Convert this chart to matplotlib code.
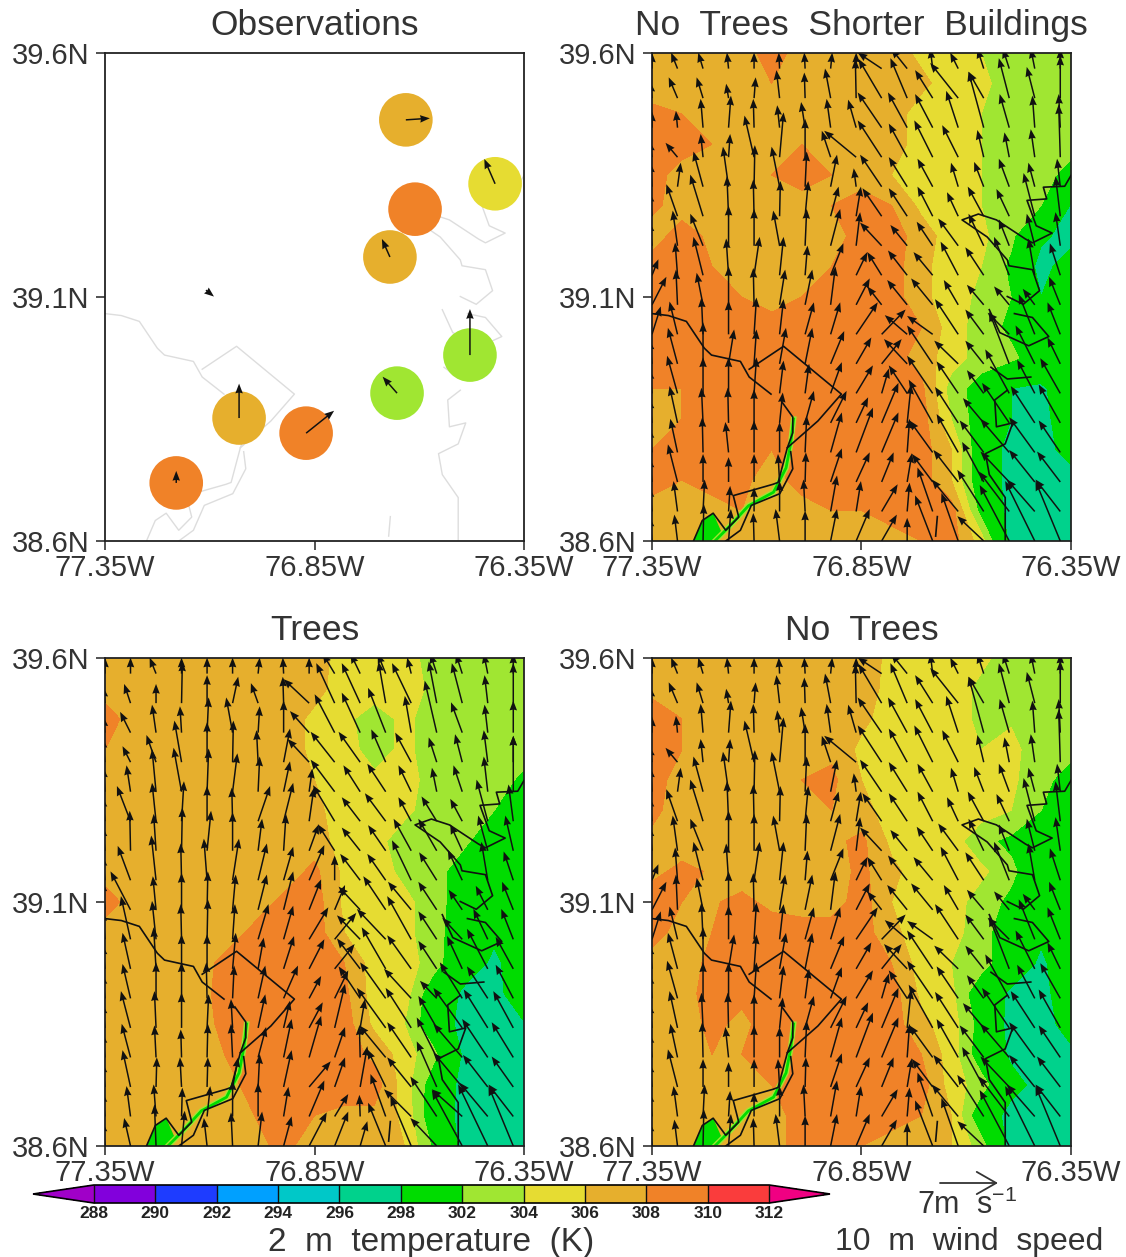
import matplotlib
matplotlib.use('Agg')
import matplotlib.pyplot as plt
from matplotlib.colors import BoundaryNorm, ListedColormap
from matplotlib.cm import ScalarMappable
from matplotlib.patches import FancyArrowPatch
import numpy as np

plt.rcParams['font.family'] = ['Liberation Sans', 'DejaVu Sans']
plt.rcParams['mathtext.default'] = 'regular'

W, H = 1126, 1257

# colour scale
levels = [288, 290, 292, 294, 296, 298, 302, 304, 306, 308, 310, 312]
level_colors = ['#8200dc', '#1e3cff', '#00a0ff', '#00c8c8', '#00d28c', '#00dc00',
                '#a0e632', '#e6dc32', '#e6af2d', '#f08228', '#fa3c3c']
under_color = '#a000c8'
over_color = '#f00082'

# observations
obs_lon = [-76.632, -76.419, -76.610, -76.670, -76.479, -76.653, -77.030, -76.870, -77.180]
obs_lat = [39.463, 39.332, 39.280, 39.182, 38.981, 38.903, 38.852, 38.821, 38.719]
obs_temp = [307, 305, 309, 307, 303, 303, 307, 309, 309]
# the station at 76.61W reported no wind, so it is left out of these
wind_lon = [-76.632, -76.419, -76.670, -76.479, -76.653, -77.030, -76.870, -77.180, -77.109]
wind_lat = [39.463, 39.332, 39.182, 38.981, 38.903, 38.852, 38.821, 38.719, 39.114]
wind_u = [3.0, -1.35, -1.0, 0.0, -1.8, 0.0, 3.5, 0.0, 1.0]
wind_v = [0.2, 3.1, 2.25, 5.75, 2.05, 4.3, 2.8, 1.5, -0.8]

# map outlines, lon then lat
line_west = [[-77.35, -77.311, -77.268, -77.225, -77.208, -77.139, -77.118, -77.066],
             [39.066, 39.062, 39.05, 38.995, 38.981, 38.968, 38.936, 38.901]]
line_dc = [[-77.118, -77.036, -76.898, -76.954, -77.027],
           [38.952, 38.999, 38.901, 38.846, 38.791]]
line_bank1 = [[-77.04, -77.014, -77.014, -77.027, -77.049, -77.062, -77.156, -77.143, -77.174, -77.204, -77.23, -77.251],
              [38.885, 38.854, 38.822, 38.791, 38.72, 38.716, 38.693, 38.649, 38.622, 38.657, 38.642, 38.6]]
line_bank2 = [[-77.019, -77.014, -77.045, -77.113, -77.139, -77.174],
              [38.783, 38.748, 38.697, 38.673, 38.622, 38.6]]
line_east1 = [[-76.35, -76.365, -76.416, -76.408, -76.455, -76.433, -76.395, -76.442, -76.459, -76.528, -76.571, -76.61, -76.55, -76.502, -76.498, -76.442, -76.425, -76.464, -76.502],
              [39.349, 39.327, 39.325, 39.301, 39.298, 39.246, 39.231, 39.211, 39.219, 39.258, 39.27, 39.258, 39.223, 39.176, 39.164, 39.156, 39.113, 39.085, 39.101]]
line_east2 = [[-76.545, -76.52, -76.451, -76.403, -76.442, -76.485],
              [39.074, 39.027, 39.0, 39.019, 39.058, 39.066]]
line_east3 = [[-76.541, -76.502, -76.446],
              [38.956, 38.932, 38.936]]
line_east4 = [[-76.502, -76.532, -76.528, -76.489, -76.507, -76.554, -76.545, -76.507, -76.507],
              [38.909, 38.889, 38.834, 38.842, 38.799, 38.779, 38.736, 38.689, 38.602]]
line_south = [[-76.669, -76.673], [38.65, 38.61]]
map_lines = [line_west, line_dc, line_bank1, line_bank2, line_east1, line_east2, line_east3, line_east4, line_south]

river_lon = [-77.012, -77.019, -77.03, -77.06, -77.12, -77.165, -77.2]
river_lat = [38.85, 38.80, 38.75, 38.70, 38.672, 38.63, 38.6]
island_lon = [-77.25, -77.23, -77.204, -77.185, -77.2]
island_lat = [38.6, 38.642, 38.657, 38.62, 38.6]

# 2 m temperature, top row first
temp_shorter = [
    [307, 307, 307, 307.5, 308.5, 307.5, 307.5, 307, 307, 305.5, 305, 304, 303, 303, 303],
    [307, 307, 307, 307, 308, 308, 307, 307, 307, 306.5, 305, 304.5, 303, 303, 303],
    [308.5, 308, 307.5, 308, 307, 307, 308, 307.5, 307, 305, 305, 304, 303, 303, 303],
    [308.5, 308.5, 308, 308, 307.5, 308, 307.5, 307, 307, 305, 305, 304, 303, 303, 303],
    [308.5, 307.5, 307, 307.5, 308, 308.5, 308, 307.5, 306, 305, 305, 304, 303, 303, 301],
    [308.5, 307, 307, 307, 308, 307.5, 308, 308.5, 308, 305.5, 305, 304, 303, 302, 297.8],
    [307, 309, 307.5, 307, 307.5, 307, 307.5, 308.5, 309, 307, 305, 304.5, 302.5, 298.5, 297],
    [309, 309, 308, 307, 307, 307.5, 308, 309, 309, 306.5, 305, 304, 301.5, 297, 299.5],
    [309, 309, 309, 308, 307, 308, 309, 309, 309, 306.5, 305, 303.5, 302, 298, 300],
    [309, 309, 309, 309, 309, 309, 309, 309, 309, 308, 305, 303, 301.5, 299, 300],
    [309, 309, 309, 309, 309, 309, 309, 309, 309, 307, 305, 303, 302.5, 300.5, 300],
    [308, 308, 309, 309, 309, 309, 309, 309, 309, 308.5, 303, 301, 298, 297.5, 300],
    [307, 308, 309, 309, 309, 309, 309, 309, 309, 309, 304, 300.5, 298, 297, 300],
    [308, 309, 309, 309, 308, 309, 309, 309, 309, 309, 306, 300, 297, 297, 299],
    [309, 308, 309, 308.5, 307, 309, 309, 309, 309, 309, 306, 300, 297, 297, 297],
    [307, 307, 307, 308, 307, 307, 308, 308, 309, 309, 309, 301, 297, 297, 297],
    [307, 307, 307, 307, 307, 307, 307, 307, 307, 308, 309, 305, 297, 297, 297],
]
temp_trees = [
    [307, 307, 307, 307, 307, 307, 307, 307, 305, 305, 305, 303, 303, 303, 303],
    [307, 307, 307, 307, 307, 307, 307, 306.7, 305, 305, 305, 303.5, 303, 303, 303],
    [309, 307, 307, 307, 307, 307, 307, 305.5, 304.5, 303, 304.5, 303, 303, 303, 303],
    [308, 307, 307, 307, 307, 307, 307, 305.5, 305, 303, 304.5, 303, 303, 303, 303],
    [307.5, 307, 307, 307, 307, 307, 307, 306, 305, 304.5, 305, 303, 303, 303, 301.5],
    [307, 307, 307, 307, 307, 307, 307, 306.5, 305, 305, 304.5, 303, 303, 302, 300],
    [307, 307, 307, 307, 307, 307, 307, 307, 305, 304.7, 303, 303, 302.5, 300, 300],
    [307, 307, 307, 307, 307, 307, 307, 308.5, 305.5, 305, 303.5, 303, 300.5, 300, 300],
    [309, 307, 307, 307, 307, 307, 308.5, 309, 305.5, 305, 304.5, 303, 300.5, 298, 300],
    [307, 307, 307, 307, 307, 308.5, 309, 309, 306, 305, 304.5, 303, 300, 298.5, 300],
    [307, 307, 307, 307, 308.5, 309, 309, 309, 308, 305, 305, 303, 299.5, 297.5, 299.5],
    [307, 307, 307, 307, 308.8, 309, 309, 309, 308.5, 305, 305, 300, 297.5, 297, 300],
    [307, 307, 307, 307, 308.5, 309, 309, 309, 309, 305.5, 304, 300, 297, 297, 297.8],
    [307, 307, 307, 307, 308, 309, 309, 309, 309, 307.5, 305, 302.5, 297.5, 297, 297],
    [307, 307, 307, 307, 307, 309, 309, 309, 309, 309, 305, 300.5, 297, 297, 297],
    [307, 307, 307, 307, 307, 308, 309, 308, 307.5, 307.5, 305.5, 300, 297, 297, 297],
    [307, 307, 307, 307, 307, 307.5, 308.5, 307, 307, 307, 306, 301.5, 297, 297, 297],
]
temp_no_trees = [
    [307.5, 307, 307, 307, 307, 307, 307, 307, 305.5, 305, 305, 304.5, 303, 303, 303],
    [307.5, 307, 307, 307, 307, 307, 307, 307, 305.3, 305, 305, 303.5, 303.7, 303, 303],
    [309, 308, 307.5, 307, 307, 307, 307, 306.5, 305, 304, 305, 303.5, 303.8, 303, 303],
    [308.5, 308, 307, 307, 307, 307, 307.5, 305.5, 305, 305, 305, 304, 304.5, 303, 303],
    [308.5, 307.5, 307, 307, 308, 308, 308.5, 306, 305, 305, 305, 305, 304.3, 303, 300.5],
    [308.5, 307, 307, 307, 307.5, 307, 308, 306.7, 305, 305, 305, 305, 304, 302, 298],
    [307.5, 307, 307, 307, 307, 307, 307.5, 308.5, 305.5, 305, 305, 302.5, 301.5, 300, 300],
    [307.5, 308.5, 307.8, 307, 307, 307, 307, 308.5, 306.5, 305, 305, 304.5, 302.5, 300, 300],
    [309, 308, 307.8, 308.5, 307.5, 307, 307, 309, 306, 305, 305, 303, 301.5, 299, 300],
    [309, 307, 308, 308.5, 309, 309, 309, 309, 306.5, 305, 304.7, 303, 300, 298.5, 300],
    [307, 307, 308.5, 309, 309, 309, 309, 309, 308, 305, 304, 303, 300, 297.5, 300],
    [307, 307.5, 308.5, 308.5, 309, 309, 309, 309, 309, 305.5, 304.5, 300, 297.5, 297, 300],
    [307.5, 307, 308.5, 307.5, 309, 309, 309, 309, 309, 306.5, 305, 301, 297, 297, 299],
    [307, 307, 308, 308, 309, 309, 309, 309, 309, 308, 305, 300.5, 297.5, 297, 297.5],
    [307, 307, 308, 308, 308, 309, 309, 309, 309, 309, 305, 303, 299, 297, 297],
    [308, 307, 307.5, 307.5, 307, 309, 309, 309, 308.5, 308, 306, 300, 297, 297, 297],
    [307, 307, 307, 307, 307, 309, 309, 308, 307.5, 307.5, 306, 303, 297, 297, 297],
]

# 10 m wind in m/s, top row first
u_no_trees = [
    [0, -.8, -.6, -.2, 0, -.1, -.1, .2, 0, -3, -2, -.3, -1, -.8, -.8, -.5, 0],
    [-.2, -1.1, -.8, -.3, .2, -.4, -.1, -.7, -.1, -2.9, -2.1, -2.2, -3.5, -1.9, -1.3, -1, 0],
    [0, -.2, -.3, .3, -.1, -.3, -.5, -.5, -1, -3, -2.4, -2.2, -1.5, -1.9, -1.2, -.3, -.2],
    [-.3, -1.5, -.3, .2, -1.2, .5, 0, -1.1, -4, -3, -2.3, -2.3, -2, -.8, -.6, -.5, -.2],
    [-.2, .4, -1.2, -.7, .1, -1, .2, .8, -.3, -2.7, -2.3, -1.9, -.9, -1.2, -1.3, -.8, -.4],
    [-.3, -1.4, -1.6, -.2, -.1, .1, .4, 1, .6, -2.4, -2.3, -1.9, -1.4, -2, -1.6, -1.4, -.6],
    [-.3, -.6, -1.6, 0, 0, -.8, .2, 1.2, .5, -2.7, -2.1, -2, -2.5, -1.9, -1.3, -1, -.6],
    [.8, -.3, -1.2, -.3, .7, .5, .3, 1.6, 1.4, -1.8, -2.4, -2.4, -2.2, -2.3, -1.9, -.8, -1.3],
    [1.8, -.2, -.8, 0, -.1, .7, .9, .6, 1.7, -1.8, -2.5, -2.7, -1.8, -2.1, -1.9, -1.5, -1.4],
    [1.1, -1, -.2, 0, .3, .5, 1.1, 1.2, 2.7, 3, -2.8, -3.2, -2.9, -2.3, -2.7, -2, -1.6],
    [-.3, -1.2, 0, .7, .3, .8, .9, 1.7, 1.9, 2.5, -2.9, -3.2, -3, -2.3, -2.5, -2.4, -1.6],
    [-.3, -1.3, 0, 0, .3, .5, .5, 1.4, 2.1, .9, -2.3, -3.2, -2.7, -2.1, -3, -2.2, -2.5],
    [-.3, -1, -.2, -.1, 0, .4, 1.1, 2, 1.5, 2.1, .5, -3, -2.9, -2.6, -3.4, -3, -2.7],
    [-.3, -.9, -.1, -.4, 0, 0, .2, 1.4, 2.1, 2.1, .3, -2.9, -2.7, -3, -3.6, -3.2, -2.7],
    [-.3, -1.2, 0, 0, 0, -.2, .1, 1.4, 1.7, 1.5, .6, -2.6, -3.1, -2.7, -3.6, -3.2, -2.9],
    [-.3, -.5, .2, .2, 0, 0, -.2, .8, .6, 2, .3, -1.9, -3.3, -3.3, -3.8, -3.5, -3.1],
    [-.3, -.4, .1, .3, -.1, -.5, 0, .8, 1.7, 1.9, 0, -2.2, -2.1, -3.3, -3.7, -3.7, -3.1],
]
v_no_trees = [
    [2, 2, 2, 2, 2, 2, 2, 2, 2, 2, 2.5, 2.5, 2, 2.5, 2.5, 2.5, 2.5],
    [2, 2.6, 2.6, 1.8, 2.6, 3.5, 3.2, 3.7, 4.9, 4.9, 5, 3.5, 4.4, 3.3, 5, 3.9, 5.3],
    [2, 2.1, 3.6, 4, 3.6, 2.8, 3.2, 3.6, 3.5, 4.4, 4.4, 4.2, 4.6, 7, 4.2, 4, 4.2],
    [2, 1.8, 2.9, 2.9, 5.2, 5.6, 4.8, 3.3, 3.3, 4.6, 4.2, 4.6, 4, 3.4, 3.1, 3.5, 6.6],
    [3, 3, 4.4, 5, 5.2, 5, 4.4, 4, 2.3, 4, 3.7, 3.5, 3, 3.1, 3.5, 3, 3.5],
    [3, 4, 5.2, 5, 4.6, 4.4, 4.4, 3.7, 3.7, 3.5, 3.5, 3.7, 3, 3.7, 3.4, 5.4, 5],
    [3, 4.4, 4, 5, 4.6, 4.4, 4.6, 4.6, 4.2, 2.9, 2.6, 3, 3.4, 4, 3.3, 4, 4.2],
    [2, 4.1, 4.8, 4.6, 4.8, 4.8, 3.7, 4, 2.9, 2.9, 3.1, 2.9, 4.2, 3.5, 4.8, 4.6, 4],
    [3.5, 4.4, 4, 4.8, 4.6, 4.4, 4.4, 4.8, 3.3, 2.3, 3.1, 3.3, 3.1, 2.5, 2.3, 2, 3.5],
    [3.5, 4.1, 4.6, 4.2, 4.6, 4.4, 4, 4, 4, 3.1, 2.4, 2.3, 4.4, 3.1, 2.7, 5, 4],
    [3, 4.5, 5.2, 4.3, 4.3, 4.5, 4.5, 4.1, 3.3, 3.1, 3.1, 4.8, 2.9, 2.9, 6.5, 4.8, 3.3],
    [3, 4.7, 4.5, 4.5, 4.5, 4.1, 3.7, 3.9, 3.5, 3.1, 3.5, 4.7, 4, 2.9, 5.5, 4.2, 4.4],
    [3, 4.6, 4.4, 4.4, 4.2, 3.8, 4, 4, 3.2, 5, 4.8, 5.4, 4.5, 3.1, 5, 4.6, 4.8],
    [3, 4.2, 4.4, 3.8, 4, 3.8, 4.6, 5, 5.6, 5, 4.2, 4, 4.8, 4, 4.2, 4.4, 4],
    [3, 4.7, 3.5, 3.1, 3.5, 3.5, 3.7, 4.2, 3.7, 3.7, 3.6, 3.5, 4, 5, 3.8, 4, 3.8],
    [3, 3.8, 4, 3.2, 3, 3.8, 4, 4.5, 3.8, 3.4, 3.6, 5.5, 4, 5.2, 5, 4, 4],
    [3, 3.3, 4.6, 4, 3.5, 4, 3.8, 4, 4, 3.3, 2.9, 5.7, 6, 3.1, 7, 7.5, 7.5],
]
u_trees = [
    [0, 0, -.8, 0, 0, 0, .2, -.1, 0, -1.5, -1.2, -1, -.5, -.8, -.8, -.5, 0],
    [-.2, -.8, 0, .1, 0, .7, -.9, -.1, -3.2, -2.3, -2.3, -.9, -2.4, -1, -1.3, -.4, 0],
    [-.2, -1.3, -.5, -.2, .2, -.8, .2, 0, -2.4, -2.5, -2.3, -2.2, -.8, -1.5, -1.4, -.4, 0],
    [-.3, -1, -1.2, -.9, 0, .1, -.2, .8, -2.7, -3, -2.7, -1.8, -2, -1, -.9, -.5, 0],
    [-.2, -.5, -.5, -1, .2, .6, .2, .8, .4, -3, -2.1, -2.3, -1.6, -.6, -1.1, -.5, 0],
    [-.3, -1.7, -.5, .3, 0, -.1, 1.5, 1.2, .6, -2.7, -2.3, -2.6, -1.6, -1.9, -1.5, -1.4, -.6],
    [-.3, -.1, -.3, .1, .5, 0, .5, .3, 1.2, -2.1, -2.3, -2.2, -2.2, -2.3, -1.5, -1.2, -1],
    [-.3, -1.6, -.6, -.1, -.4, .8, 1.1, 1.2, 1.9, 0, -2.5, -2.3, -2.4, -2.2, -1.8, -.8, -1.2],
    [-.3, -2.5, -.4, 0, .1, .4, 1.1, 1.2, 1.5, 1.3, -2.7, -2.8, -2.9, -2.3, -1.7, -1.5, -1.4],
    [-.3, -1.2, -.5, -.1, .1, .3, 1.3, 1.2, 2.4, 2.7, -2.9, -3.6, -3, -2.3, -2.5, -1.8, -1.5],
    [-.3, -1, -.3, 0, 0, .4, .7, 1.3, 1.9, 2.5, -2.9, -3, -3, -2.3, -1.9, -2.6, -2.2],
    [-.3, -1, 0, 0, -.1, .2, .9, 1.8, 1.5, 1.7, -2.7, -3.2, -3.4, -2.1, -2.8, -2.6, -2.2],
    [-.3, -1.2, -.2, 0, .2, -.2, .9, .8, 1.7, 1.3, .6, -3.6, -3.2, -2.3, -3.6, -3, -2.5],
    [-.3, -1.1, -.2, -.1, .1, -.2, 1, 1, 1.5, 1.3, -.1, -3.3, -3, -2.5, -3.6, -3.2, -2.7],
    [-.3, -1, .1, -.2, .1, .7, .2, 1, 2.7, 1.3, .9, -2.3, -3, -2.5, -3.6, -3.1, -2.7],
    [-.3, -.5, -.3, .1, .4, 0, 0, .6, 1.9, 1.7, -.1, -1.9, -3.4, -3.3, -3.8, -3.5, -3.1],
    [-.3, -.8, -.2, .4, -.4, -.2, .5, 1, 2.2, 1.7, .9, -2.2, -2.6, -3.3, -3.8, -3.7, -3.1],
]
v_trees = [
    [2, 2, 2, 2, 2, 2, 2, 2, 2, 2.5, 2.5, 2.5, 2, 2.5, 2.5, 2.5, 2.5],
    [2, 2.4, 2.4, 5.2, 3.5, 3.3, 2.5, 3.3, 3, 5, 5, 5.2, 5, 5.2, 5, 3.5, 5],
    [2, 2.6, 3.5, 3.3, 4.4, 4.4, 3.3, 4, 2.7, 4.8, 5, 5.6, 4.6, 6.5, 3.8, 3.5, 4],
    [3, 2, 3.4, 5.2, 5, 5.2, 4, 4.2, 2.9, 3.8, 3.8, 4.1, 3.7, 3.1, 3.5, 4, 3.3],
    [3, 3.3, 5.3, 5.5, 5.4, 4.8, 4.4, 3.8, 2.9, 4, 3.3, 3.5, 3.3, 3, 3.3, 4.4, 7],
    [3, 4.4, 4.8, 5, 4.4, 4.2, 4.4, 4.8, 4.2, 4.5, 3, 3.5, 3, 3.1, 2.8, 5.2, 4.6],
    [3, 5, 4.6, 5.4, 5, 4.8, 4, 4.6, 3.3, 3.3, 2.9, 3.2, 4, 4, 3.3, 4.4, 4.4],
    [3, 4.3, 5.6, 4.6, 5.2, 5.2, 4.6, 4.2, 4.4, 3.1, 3.3, 3.3, 5, 3.5, 3.8, 4.8, 3.6],
    [3.5, 4.8, 4.2, 4.6, 4.8, 4.4, 4.4, 4.8, 3.8, 3.1, 2.9, 4.2, 3.5, 3.5, 2.5, 3, 3.5],
    [3.5, 5.4, 4.8, 4.4, 5, 4.4, 4.4, 4.2, 4, 3.3, 3, 3.8, 5.4, 3.5, 2.7, 3.8, 3.8],
    [3, 4.5, 5.2, 4.3, 4.3, 4.5, 3.9, 4.1, 3.7, 3.1, 3.8, 5.2, 4.2, 3.5, 4.1, 5, 4],
    [3, 4.3, 4.5, 4.5, 4.5, 4.1, 4.1, 4.1, 2.8, 3.5, 4, 4.5, 3.7, 2.2, 4.5, 4, 4.2],
    [3, 4.6, 4.6, 4.4, 4.2, 3.6, 4.2, 3.4, 3.2, 5.5, 3.6, 5, 5, 4, 5, 4.8, 4.6],
    [3, 4.2, 4, 3.5, 4.2, 4.2, 3.8, 4.8, 5.2, 3.8, 4, 4, 4.4, 5, 4.2, 4.8, 4.4],
    [3, 4.6, 3.7, 3.7, 3.7, 3.7, 4.1, 4.6, 3.2, 3.7, 5.1, 4.7, 3.7, 5.7, 4.3, 4, 3.8],
    [3, 3.8, 4, 3.6, 3.8, 4.5, 4.2, 3.7, 4.5, 2.8, 2.7, 5.3, 3.4, 5, 3.4, 4.2, 4],
    [3, 3.5, 5.2, 4.4, 3.5, 4.2, 4.3, 3.7, 4.2, 4.3, 3.1, 5.4, 6.2, 3.5, 7, 7.7, 7.5],
]


def axes_px(x0, y0, x1, y1):
    return fig.add_axes([x0 / W, 1 - y1 / H, (x1 - x0) / W, (y1 - y0) / H])


def setup_panel(ax, title):
    ax.set_xlim(-77.35, -76.35)
    ax.set_ylim(38.6, 39.6)
    ax.set_xticks([-77.35, -76.85, -76.35], ['77.35W', '76.85W', '76.35W'])
    ax.set_yticks([38.6, 39.1, 39.6], ['38.6N', '39.1N', '39.6N'])
    ax.tick_params(length=6.5, width=1.2, labelsize=21, colors='#333333')
    ax.tick_params(axis='y', pad=4.5)
    ax.tick_params(axis='x', pad=3)
    for s in ax.spines.values():
        s.set_linewidth(1.3)
        s.set_color('#222222')
    ax.set_title(title, fontsize=25.5, color='#333333', pad=13)


def draw_arrows(ax, x, y, u, v):
    ax.quiver(x, y, u, v, angles='uv', units='inches', scale_units='inches', scale=12.5,
              width=0.015, headwidth=5, headlength=6.5, headaxislength=6, pivot='tail',
              color='#111111', zorder=5)


def model_panel(ax, title, temp, u, v):
    t = np.array(temp)
    x = np.linspace(-77.35, -76.35, t.shape[1])
    y = np.linspace(39.6, 38.6, t.shape[0])
    ax.contourf(x, y, t, levels=levels, cmap=cmap, norm=norm, extend='both', zorder=1)
    ax.fill(island_lon, island_lat, color='#00dc00', lw=0, zorder=2)
    ax.plot(river_lon, river_lat, color='#a0e632', lw=4, zorder=2)
    ax.plot(river_lon, river_lat, color='#00dc00', lw=2, zorder=2)
    for line in map_lines:
        ax.plot(line[0], line[1], color='#111111', lw=1.2, zorder=4)
    gx = -77.35 + 0.0609 * np.arange(17)
    gy = 38.6 + 0.0605 * np.arange(16, -1, -1)
    xx, yy = np.meshgrid(gx, gy)
    draw_arrows(ax, xx, yy, np.array(u), np.array(v))
    setup_panel(ax, title)


fig = plt.figure(figsize=(W / 100, H / 100), dpi=100)
cmap = ListedColormap(level_colors).with_extremes(under=under_color, over=over_color)
norm = BoundaryNorm(levels, len(level_colors))

# observations panel
ax = axes_px(105, 53, 524, 541)
for line in map_lines:
    ax.plot(line[0], line[1], color='#dddddd', lw=1.0, zorder=1)
ax.scatter(obs_lon, obs_lat, s=1490, c=obs_temp, cmap=cmap, norm=norm, linewidths=0, zorder=2)
draw_arrows(ax, wind_lon, wind_lat, wind_u, wind_v)
setup_panel(ax, 'Observations')

model_panel(axes_px(652, 53, 1071, 541), 'No  Trees  Shorter  Buildings', temp_shorter, u_no_trees, v_no_trees)
model_panel(axes_px(105, 658, 524, 1146), 'Trees', temp_trees, u_trees, v_trees)
model_panel(axes_px(652, 658, 1071, 1146), 'No  Trees', temp_no_trees, u_no_trees, v_no_trees)

# colour bar
cax = axes_px(33, 1185, 830, 1203)
cb = fig.colorbar(ScalarMappable(norm=norm, cmap=cmap), cax=cax, orientation='horizontal',
                  extend='both', extendfrac=0.09, spacing='uniform', ticks=levels, drawedges=True)
cb.ax.tick_params(length=0, labelsize=12.5, labelcolor='#222222', pad=2)
for lab in cb.ax.get_xticklabels():
    lab.set_fontweight('bold')
cb.outline.set_linewidth(1.2)
cb.dividers.set_linewidth(1.0)
cb.dividers.set_color('#111111')

fig.text(431 / W, 1 - 1242 / H, '2  m  temperature  (K)', fontsize=24, color='#333333', ha='center', va='center')
fig.text(969 / W, 1 - 1242 / H, '10  m  wind  speed', fontsize=23, color='#333333', ha='center', va='center')
fig.text(967 / W, 1 - 1205 / H, '7m  s$^{-1}$', fontsize=22, color='#333333', ha='center', va='center')
fig.add_artist(FancyArrowPatch(
    (940 / W, 1 - 1183 / H), (998 / W, 1 - 1183 / H), transform=fig.transFigure,
    arrowstyle='->,head_length=14,head_width=8', color='#333333', lw=1.3, shrinkA=0, shrinkB=0))

fig.savefig('out.png', dpi=100)
